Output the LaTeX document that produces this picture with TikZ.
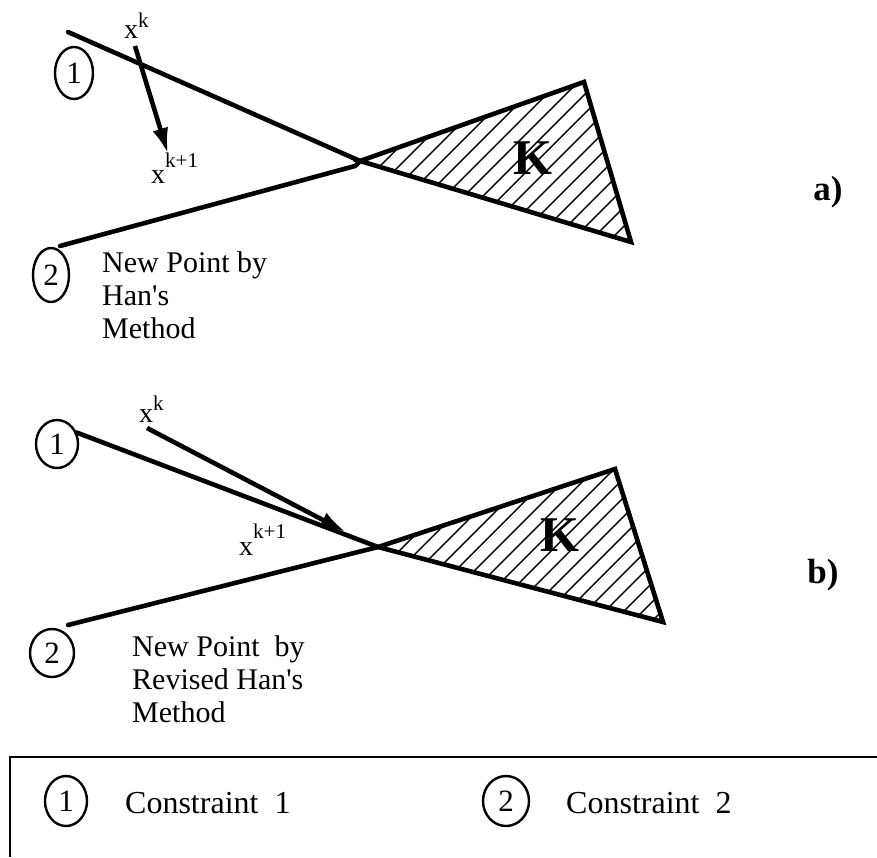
\documentclass[tikz,border=0pt]{standalone}
\usepackage{fontspec}
\setmainfont{Liberation Serif}
\usetikzlibrary{arrows.meta,shapes.geometric}

\definecolor{hanInk}{RGB}{0,0,0}

% x with a raised index
\newcommand{\iterpt}[2]{{\fontsize{28}{28}\selectfont x}\raisebox{#1}{\fontsize{21}{21}\selectfont #2}}

\begin{document}
\begin{tikzpicture}[x=1pt, y=-1pt,
    constraint/.style={draw=hanInk, line width=2.4pt, ellipse, inner sep=0pt, font=\fontsize{31}{31}\selectfont},
    bound/.style={draw=hanInk, line width=4.6pt, line cap=round, line join=miter},
    hatchline/.style={draw=hanInk, line width=1.4pt},
    iterate/.style={draw=hanInk, line width=4.6pt, -{Latex[length=26pt,width=16pt]}},
    note/.style={font=\fontsize{30}{33}\selectfont, align=left, anchor=north west, inner sep=0pt},
    legend/.style={font=\fontsize{32}{32}\selectfont, anchor=base west, inner sep=0pt},
    setname/.style={font=\fontsize{50}{50}\selectfont\bfseries, inner sep=0pt},
    panel/.style={font=\fontsize{35}{35}\selectfont\bfseries, inner sep=0pt}]
  \useasboundingbox (0,0) rectangle (877,857);

  % ---- a) Han's method
  \coordinate (aOneS) at (68,32);
  \coordinate (aCross) at (360,161);
  \coordinate (aTwoS) at (60,246);
  \coordinate (aTwoE) at (355,166);
  \coordinate (aTop) at (584,82);
  \coordinate (aBot) at (631,242);
  \begin{scope}
    \clip (aCross) -- (aTop) -- (aBot) -- cycle;
    \foreach \c in {527,546,...,880}
      \draw[hatchline] (\c-300,300) -- (\c,0);
  \end{scope}
  \draw[bound] (aCross) -- (aTop) -- (aBot) -- cycle;
  \draw[bound] (aOneS) -- (aCross);
  \draw[bound] (aTwoS) -- (aTwoE) -- (aCross);
  \node[setname] (aK) at (533,158) {K};
  \node[constraint, minimum width=38pt, minimum height=52pt] (aOne) at (74,73) {1};
  \node[constraint, minimum width=36pt, minimum height=54pt] (aTwo) at (51,275) {2};
  \node[anchor=base west, inner sep=0pt] (aXk) at (124,38) {\iterpt{11pt}{k}};
  \node[anchor=base west, inner sep=0pt] (aXkk) at (151,183) {\iterpt{16pt}{k+1}};
  \coordinate (aStepS) at (135,46);
  \coordinate (aStepE) at (168,154);
  \draw[iterate] (aStepS) -- (aStepE);
  \node[note] (aNote) at (102,251) {New Point by\\Han\textquotesingle s\\Method};
  \node[panel] (aLabel) at (828,192) {a)};

  % ---- b) revised Han's method
  \coordinate (bCross) at (378,547);
  \coordinate (bTwoS) at (68,625);
  \coordinate (bTop) at (615,469);
  \coordinate (bBot) at (663,622);
  \begin{scope}
    \clip (bCross) -- (bTop) -- (bBot) -- cycle;
    \foreach \c in {931,950,...,1290}
      \draw[hatchline] (\c-700,700) -- (\c-300,300);
  \end{scope}
  \draw[bound] (bCross) -- (bTop) -- (bBot) -- cycle;
  \node[setname] (bK) at (560,535) {K};
  \node[constraint, minimum width=42pt, minimum height=48pt] (bOne) at (57,444) {1};
  \node[constraint, minimum width=44pt, minimum height=48pt] (bTwo) at (52,653) {2};
  \draw[bound] (bOne.30) -- (bCross);
  \draw[bound] (bTwoS) -- (bCross);
  \node[anchor=base west, inner sep=0pt] (bXk) at (139,422) {\iterpt{12pt}{k}};
  \node[anchor=base west, inner sep=0pt] (bXkk) at (239,555) {\iterpt{17pt}{k+1}};
  \coordinate (bStepS) at (147,428);
  \coordinate (bStepE) at (346,532);
  \draw[iterate] (bStepS) -- (bStepE);
  \node[note] (bNote) at (132,635) {New Point\ \ by\\Revised Han\textquotesingle s\\Method};
  \node[panel] (bLabel) at (823,575) {b)};

  % ---- legend
  \draw[draw=hanInk, line width=2.5pt] (877,757) -- (10,757) -- (10,857);
  \node[constraint, minimum width=42pt, minimum height=50pt] (lOne) at (66,801) {1};
  \node[legend] (lOneText) at (125,813) {Constraint\ \ 1};
  \node[constraint, minimum width=46pt, minimum height=50pt] (lTwo) at (506,801) {2};
  \node[legend] (lTwoText) at (566,813) {Constraint\ \ 2};
\end{tikzpicture}
\end{document}
